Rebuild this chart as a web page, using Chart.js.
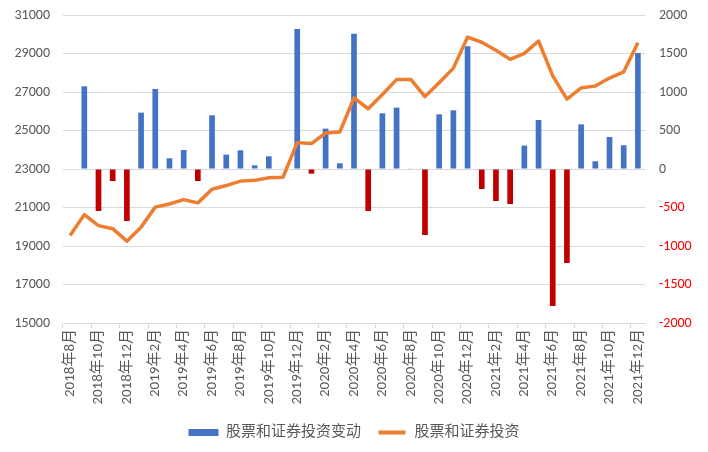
<!DOCTYPE html>
<html>
<head>
<meta charset="utf-8">
<script src="https://cdn.jsdelivr.net/npm/chart.js@4/dist/chart.umd.min.js"></script>
<style>
  html, body { margin: 0; padding: 0; background: #fff; }
  #wrap { width: 708px; height: 452px; }
</style>
</head>
<body>
<div id="wrap"><canvas id="chart" width="708" height="452"></canvas></div>
<script>
const months = [
    '2018年8月', '2018年9月', '2018年10月', '2018年11月', '2018年12月',
    '2019年1月', '2019年2月', '2019年3月', '2019年4月', '2019年5月', '2019年6月',
    '2019年7月', '2019年8月', '2019年9月', '2019年10月', '2019年11月', '2019年12月',
    '2020年1月', '2020年2月', '2020年3月', '2020年4月', '2020年5月', '2020年6月',
    '2020年7月', '2020年8月', '2020年9月', '2020年10月', '2020年11月', '2020年12月',
    '2021年1月', '2021年2月', '2021年3月', '2021年4月', '2021年5月', '2021年6月',
    '2021年7月', '2021年8月', '2021年9月', '2021年10月', '2021年11月', '2021年12月'
];

// 股票和证券投资变动 (right axis)
const changes = [
    null, 1074, -545, -156, -675,
    732, 1039, 139, 247, -156, 697,
    187, 243, 48, 165, 5, 1818,
    -60, 524, 74, 1758, -545, 723,
    797, 5, -857, 710, 762, 1594,
    -260, -416, -455, 304, 636, -1779,
    -1221, 580, 100, 416, 308, 1507
];

// 股票和证券投资 (left axis)
const holdings = [
    19540, 20630, 20060, 19900, 19250,
    19980, 21020, 21180, 21410, 21240, 21950,
    22140, 22370, 22410, 22550, 22570, 24370,
    24320, 24870, 24920, 26690, 26130, 26870,
    27645, 27650, 26760, 27480, 28240, 29850,
    29585, 29170, 28700, 29005, 29650, 27840,
    26630, 27215, 27310, 27725, 28045, 29555
];

const blue = '#4472C4';
const red = '#C00000';
const orange = '#ED7D31';
const grey = '#595959';
const gridGrey = '#D9D9D9';
const fontFamily = 'Calibri, Carlito, "Noto Sans CJK SC", "Liberation Sans", sans-serif';

// fixed box for the value axes, so the plot area lines up with the original
function fitValueAxis(s) {
    s.width = 63;
    s.paddingTop = 15;
    s.paddingBottom = 0;
}

const ctx = document.getElementById('chart').getContext('2d');

new Chart(ctx, {
    data: {
        labels: months,
        datasets: [{
            type: 'bar',
            label: '股票和证券投资变动',
            data: changes,
            yAxisID: 'yRight',
            backgroundColor: changes.map(v => v < 0 ? red : blue),
            barPercentage: 0.4,
            categoryPercentage: 1,
            order: 1
        }, {
            type: 'line',
            label: '股票和证券投资',
            data: holdings,
            yAxisID: 'yLeft',
            borderColor: orange,
            backgroundColor: orange,
            borderWidth: 3.5,
            borderJoinStyle: 'round',
            pointRadius: 0,
            tension: 0,
            order: 0
        }]
    },
    options: {
        responsive: false,
        animation: false,
        layout: { padding: { top: 0, bottom: 2, left: 0, right: 0 } },
        plugins: {
            tooltip: { enabled: false },
            legend: {
                position: 'bottom',
                labels: {
                    color: grey,
                    font: { family: fontFamily, size: 15 },
                    boxWidth: 30,
                    boxHeight: 7,
                    padding: 16,
                    generateLabels: function (chart) {
                        return [{
                            text: '股票和证券投资变动',
                            fillStyle: blue,
                            strokeStyle: blue,
                            lineWidth: 0,
                            fontColor: grey,
                            datasetIndex: 0
                        }, {
                            text: '股票和证券投资',
                            fillStyle: orange,
                            strokeStyle: '#ffffff',
                            lineWidth: 3,
                            fontColor: grey,
                            datasetIndex: 1
                        }];
                    }
                }
            }
        },
        scales: {
            x: {
                offset: true,
                border: { color: gridGrey },
                grid: {
                    offset: true,
                    drawOnChartArea: false,
                    tickLength: 5,
                    color: c => (c.index % 2 === 0 ? gridGrey : 'rgba(0,0,0,0)')
                },
                ticks: {
                    autoSkip: false,
                    minRotation: 90,
                    maxRotation: 90,
                    padding: 1,
                    color: grey,
                    font: { family: fontFamily, size: 15 },
                    callback: function (value, index) {
                        return index % 2 === 0 ? months[index] : '';
                    }
                },
                afterFit: s => { s.height = 86; }
            },
            yLeft: {
                position: 'left',
                min: 15000,
                max: 31000,
                border: { display: false },
                grid: { color: gridGrey, drawTicks: false },
                ticks: {
                    stepSize: 2000,
                    padding: 13,
                    color: grey,
                    font: { family: fontFamily, size: 14 },
                    callback: v => String(v)
                },
                afterFit: fitValueAxis
            },
            yRight: {
                position: 'right',
                min: -2000,
                max: 2000,
                border: { display: false },
                grid: { drawOnChartArea: false, drawTicks: false },
                ticks: {
                    stepSize: 500,
                    padding: 14,
                    color: c => (c.tick.value < 0 ? '#FF0000' : grey),
                    font: { family: fontFamily, size: 14 },
                    callback: v => String(v)
                },
                afterFit: fitValueAxis
            }
        }
    }
});
</script>
</body>
</html>
